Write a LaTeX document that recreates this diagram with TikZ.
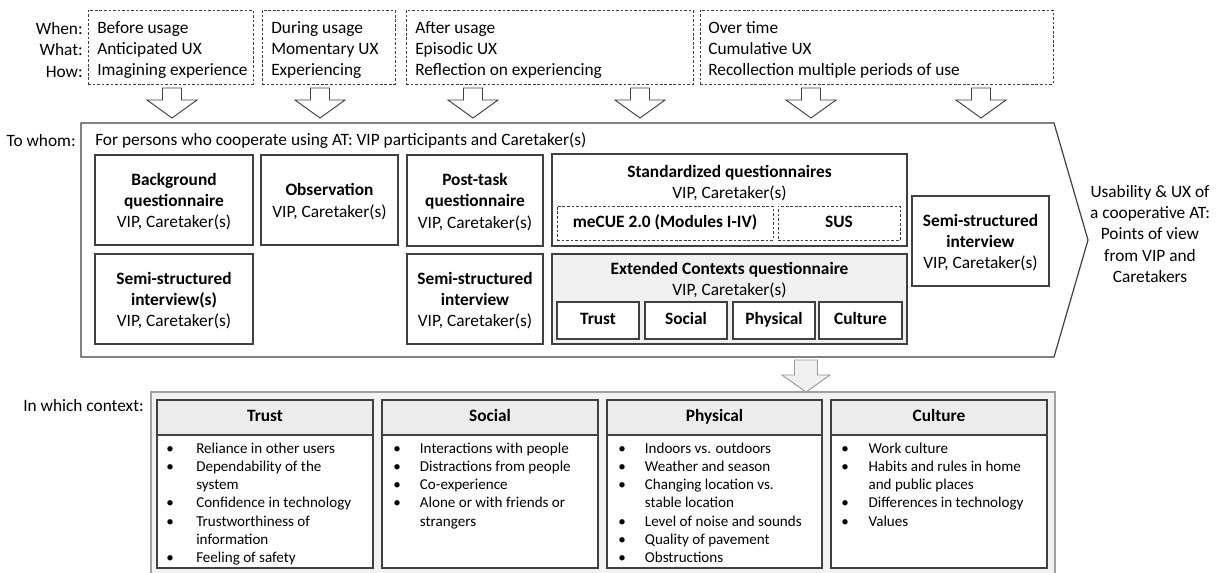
\documentclass[tikz,border=0pt]{standalone}
\usepackage{fontspec}
\setmainfont{Carlito}
\usetikzlibrary{fit,calc}
\definecolor{edge}{HTML}{404040}
\definecolor{softgrey}{HTML}{F0F0F0}
\definecolor{headgrey}{HTML}{ECECEC}
\definecolor{panelgrey}{HTML}{F2F2F2}
\definecolor{paneledge}{HTML}{A0A0A0}
\definecolor{arrowedge}{HTML}{9A9A9A}

\tikzset{
  downarrow/.pic={
    \path[pic actions] (-9.5,0) -- (9.5,0) -- (9.5,12) -- (25,12) -- (0,30)
      -- (-25,12) -- (-9.5,12) -- cycle;
  },
  widearrow/.pic={
    \path[pic actions] (-11.5,0) -- (11.5,0) -- (11.5,15) -- (24,15) -- (0,32)
      -- (-24,15) -- (-11.5,15) -- cycle;
  }
}

\newcommand{\bitem}{\textbullet}

\begin{document}
\begin{tikzpicture}[x=0.75pt,y=-0.75pt,
  font=\fontsize{13}{15.9}\selectfont,
  box/.style={draw=edge, line width=0.8pt, fill=white, inner sep=0pt},
  greybox/.style={box, fill=softgrey},
  dbox/.style={draw=edge, line width=0.7pt, dash pattern=on 2pt off 1.4pt, inner sep=0pt},
  txt/.style={inner sep=0pt, align=center},
  ltxt/.style={inner sep=0pt, anchor=west, align=left},
  btxt/.style={inner sep=0pt, text height=9.2pt, text depth=2.6pt, font=\fontsize{13}{15.9}\selectfont\bfseries},
  hollow/.style={draw=edge, line width=0.7pt, fill=white},
  softarrow/.style={draw=arrowedge, line width=0.7pt, fill=softgrey},
  chev/.style={draw=edge, line width=0.9pt, fill=white},
  panel/.style={draw=paneledge, line width=0.8pt, fill=panelgrey, inner sep=0pt},
  headbox/.style={draw=edge, line width=0.8pt, fill=headgrey, inner sep=0pt},
  bodybox/.style={draw=edge, line width=0.8pt, fill=white, inner sep=0pt},
  blist/.style={inner sep=0pt, anchor=north west, font=\fontsize{11.3}{13.7}\selectfont}
]
\useasboundingbox (0,0) rectangle (1217,572);

% ---------- phases of use ----------
\node[txt, anchor=east, align=right] (lbl) at (83,50) {When:\\What:\\How:};

\node[dbox, fit={(88,10) (253,84)}] (p1) {};
\node[dbox, fit={(262,10) (395,84)}] (p2) {};
\node[dbox, fit={(406,10) (693,84)}] (p3) {};
\node[dbox, fit={(700,10) (1053,84)}] (p4) {};

\node[ltxt] (p1t) at (97,50) {Before usage\\Anticipated UX\\Imagining experience};
\node[ltxt] (p2t) at (271,50) {During usage\\Momentary UX\\Experiencing};
\node[ltxt] (p3t) at (415,50) {After usage\\Episodic UX\\Reflection on experiencing};
\node[ltxt] (p4t) at (708,50) {Over time\\Cumulative UX\\Recollection multiple periods of use};

% hollow arrows into the methods block
\foreach \ax in {172,320,473,640,811,981}
  \pic[hollow] at (\ax,88) {downarrow};

% ---------- methods block ----------
\coordinate (cA) at (81,123);
\coordinate (cB) at (1054,123);
\coordinate (cC) at (1088,240);
\coordinate (cD) at (1054,357);
\coordinate (cE) at (81,357);
\draw[chev] (cA) -- (cB) -- (cC) -- (cD) -- (cE) -- cycle;

\node[txt, anchor=east] (whom) at (76,141) {To whom:};
\node[txt, anchor=west] (persons) at (95,141) {For persons who cooperate using AT: VIP participants and Caretaker(s)};

\node[box, fit={(95,155) (253,245)}] (bgq) {};
\node[txt] at ([yshift=-1.2pt]bgq.center) {\textbf{Background}\\\textbf{questionnaire}\\VIP, Caretaker(s)};
\node[box, fit={(261,155) (398,245)}] (obs) {};
\node[txt] at ([yshift=-1.2pt]obs.center) {\textbf{Observation}\\VIP, Caretaker(s)};
\node[box, fit={(407,155) (543,246)}] (ptq) {};
\node[txt] at ([yshift=-1.2pt]ptq.center) {\textbf{Post-task}\\\textbf{questionnaire}\\VIP, Caretaker(s)};
\node[box, fit={(95,254) (253,344)}] (ssa) {};
\node[txt] at ([yshift=-1.2pt]ssa.center) {\textbf{Semi-structured}\\\textbf{interview(s)}\\VIP, Caretaker(s)};
\node[box, fit={(407,254) (543,344)}] (ssb) {};
\node[txt] at ([yshift=-1.2pt]ssb.center) {\textbf{Semi-structured}\\\textbf{interview}\\VIP, Caretaker(s)};

\node[box, fit={(552,154) (907,246)}] (stdq) {};
\node[txt] (stdqt) at (729.5,183) {\textbf{Standardized questionnaires}\\VIP, Caretaker(s)};
\node[dbox, fit={(557,206) (773,240)}] (mecue) {};
\node[btxt] at (mecue.center) {meCUE 2.0 (Modules I-IV)};
\node[dbox, fit={(778,206) (900,240)}] (sus) {};
\node[btxt] at (sus.center) {SUS};

\node[greybox, fit={(552,254) (907,344)}] (ecq) {};
\node[txt] (ecqt) at (729.5,280) {\textbf{Extended Contexts questionnaire}\\VIP, Caretaker(s)};
\node[box, fit={(557,302) (639,339)}] (eTrust) {};
\node[btxt] at (eTrust.center) {Trust};
\node[box, fit={(645,302) (727,339)}] (eSocial) {};
\node[btxt] at (eSocial.center) {Social};
\node[box, fit={(733,302) (815,339)}] (ePhys) {};
\node[btxt] at (ePhys.center) {Physical};
\node[box, fit={(819,302) (902,339)}] (eCult) {};
\node[btxt] at (eCult.center) {Culture};

\node[box, fit={(912,196) (1049,286)}] (ssc) {};
\node[txt] at ([yshift=-1.2pt]ssc.center) {\textbf{Semi-structured}\\\textbf{interview}\\VIP, Caretaker(s)};

\node[txt] (result) at (1150,234) {Usability \& UX of\\a cooperative AT:\\Points of view\\from VIP and\\Caretakers};

% ---------- contexts ----------
\pic[softarrow] at (806,360) {widearrow};

\node[txt, anchor=east] (ctxlbl) at (144,406) {In which context:};
\node[panel, fit={(151,392) (1055,582)}] (ctx) {};

\node[headbox, fit={(157,400) (373,435)}] (hTrust) {};
\node[btxt] at (hTrust.center) {Trust};
\node[bodybox, fit={(157,435) (373,568)}] (bTrust) {};
\node[headbox, fit={(382,400) (598,435)}] (hSocial) {};
\node[btxt] at (hSocial.center) {Social};
\node[bodybox, fit={(382,435) (598,568)}] (bSocial) {};
\node[headbox, fit={(607,400) (822,435)}] (hPhys) {};
\node[btxt] at (hPhys.center) {Physical};
\node[bodybox, fit={(607,435) (822,568)}] (bPhys) {};
\node[headbox, fit={(831,400) (1047,435)}] (hCult) {};
\node[btxt] at (hCult.center) {Culture};
\node[bodybox, fit={(831,435) (1047,568)}] (bCult) {};

\node[blist] (lTrust) at (166,440) {\begin{tabular}{@{}p{22.5pt}@{}l@{}}
\bitem & Reliance in other users\\
\bitem & Dependability of the\\
 & system\\
\bitem & Confidence in technology\\
\bitem & Trustworthiness of\\
 & information\\
\bitem & Feeling of safety
\end{tabular}};

\node[blist] (lSocial) at (393,440) {\begin{tabular}{@{}p{20pt}@{}l@{}}
\bitem & Interactions with people\\
\bitem & Distractions from people\\
\bitem & Co-experience\\
\bitem & Alone or with friends or\\
 & strangers
\end{tabular}};

\node[blist] (lPhys) at (618,440) {\begin{tabular}{@{}p{20pt}@{}l@{}}
\bitem & Indoors vs. outdoors\\
\bitem & Weather and season\\
\bitem & Changing location vs.\\
 & stable location\\
\bitem & Level of noise and sounds\\
\bitem & Quality of pavement\\
\bitem & Obstructions
\end{tabular}};

\node[blist] (lCult) at (841,440) {\begin{tabular}{@{}p{20.5pt}@{}l@{}}
\bitem & Work culture\\
\bitem & Habits and rules in home\\
 & and public places\\
\bitem & Differences in technology\\
\bitem & Values
\end{tabular}};

\end{tikzpicture}
\end{document}
